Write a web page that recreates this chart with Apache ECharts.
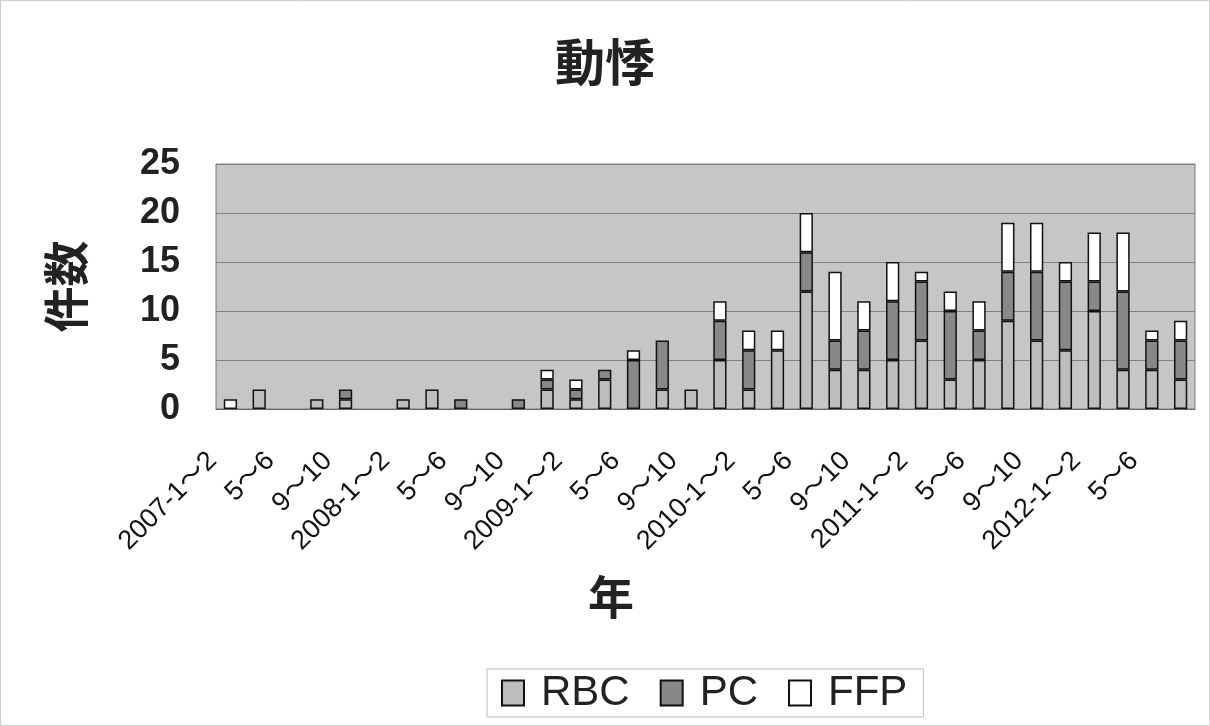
<!DOCTYPE html>
<html><head><meta charset="utf-8">
<script src="https://cdn.jsdelivr.net/npm/echarts@6/dist/echarts.min.js"></script>
<style>html,body{margin:0;padding:0;background:#fff}#c{width:1210px;height:726px}</style>
</head><body><div id="c"></div>
<script>
const years = ['2007','2008','2009','2010','2011','2012'];
const months = ['1～2','3～4','5～6','7～8','9～10','11～12'];
const categories = [];
years.forEach(y => months.forEach((m, k) => {
  if (y === '2012' && k > 3) return;
  categories.push(k === 0 ? y + '-' + m : m);
}));
const rbc = [0,2,0,1,1,0,1,2,0,0,0,2,1,3,0,2,2,5,2,6,12,4,4,5,7,3,5,9,7,6,10,4,4,3];
const pc  = [0,0,0,0,1,0,0,0,1,0,1,1,1,1,5,5,0,4,4,0,4,3,4,6,6,7,3,5,7,7,3,8,3,4];
const ffp = [1,0,0,0,0,0,0,0,0,0,0,1,1,0,1,0,0,2,2,2,4,7,3,4,1,2,3,5,5,2,5,6,1,2];
const yTicks = [0,5,10,15,20,25];

const nz = a => a.map(v => v === 0 ? null : v);
const chart = echarts.init(document.getElementById('c'));
const mk = (name, data, color) => ({name, type:'bar', stack:'s', barWidth:'46%', data:nz(data),
  itemStyle:{color, borderColor:'#111', borderWidth:1.5}});
chart.setOption({
  animation:false,
  backgroundColor:'#fff',
  title:{text:'動悸', left:'center', top:32,
    textStyle:{fontFamily:'Noto Sans CJK JP', fontSize:50, fontWeight:'bold', color:'#222'}},
  legend:{left:487, top:669, itemWidth:22, itemHeight:25, itemGap:30, icon:'rect',
    padding:[3,16,3,14], borderColor:'#bbb', borderWidth:1,
    textStyle:{fontFamily:'Liberation Sans', fontSize:42, lineHeight:42, color:'#222', padding:[0,0,0,12]},
    data:['RBC','PC','FFP']},
  grid:{left:216, right:15, top:164, bottom:317, show:true,
    backgroundColor:'#c6c6c6', borderColor:'#7a7a7a', borderWidth:1},
  xAxis:{type:'category', data:categories,
    axisLine:{lineStyle:{color:'#666'}},
    axisTick:{inside:true, length:5, lineStyle:{color:'#888'}},
    axisLabel:{interval:1, rotate:45, margin:30, fontSize:27, padding:[0,25,0,0],
      fontFamily:'Liberation Sans, Noto Sans CJK JP', color:'#111'}},
  yAxis:{type:'value', min:0, max:25, interval:5,
    name:'件数', nameLocation:'middle', nameGap:127,
    nameTextStyle:{fontFamily:'Noto Sans CJK JP', fontSize:46, fontWeight:'bold', color:'#222'},
    axisLabel:{margin:36, fontSize:36, fontWeight:'bold', fontFamily:'Liberation Sans', color:'#222',
      formatter: v => yTicks.includes(v) ? String(v) : ''},
    splitLine:{lineStyle:{color:'#808080', width:1}}},
  series:[
    mk('RBC', rbc, '#bdbdbd'),
    mk('PC', pc, '#888888'),
    mk('FFP', ffp, '#ffffff')
  ],
  graphic:[
    {type:'text', left:588, top:574, silent:true,
      style:{text:'年', font:'bold 46px "Noto Sans CJK JP"', fill:'#222'}},
    {type:'rect', shape:{x:0.5,y:0.5,width:1209,height:725}, style:{fill:'none', stroke:'#ccc'}, silent:true}]
});
</script></body></html>
